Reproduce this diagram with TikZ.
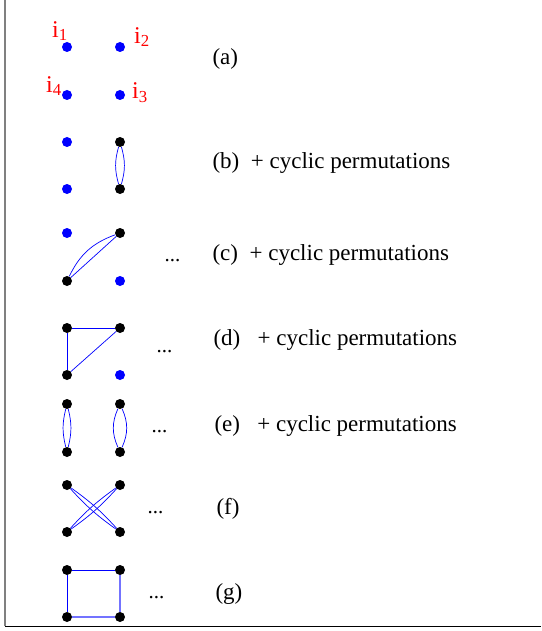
\documentclass[tikz,border=0pt]{standalone}
\usepackage{fontspec}
\setmainfont{Liberation Serif}
\usepackage{tikz}
\usetikzlibrary{positioning}

\begin{document}
\begin{tikzpicture}[
    x=1pt, y=-1pt,
    dot/.style={circle, fill=black, inner sep=0pt, minimum size=10pt},
    fdot/.style={dot, fill=blue},
    link/.style={draw=blue, line width=0.7pt},
    lbl/.style={anchor=base west, font=\fontsize{23}{28}\selectfont},
    more/.style={anchor=base west, font=\fontsize{21}{26}\selectfont},
    idx/.style={text=red, inner sep=0pt, font=\fontsize{24}{28}\selectfont}
]
\useasboundingbox (0,0) rectangle (541,631);

% frame
\draw[gray, line width=1.2pt] (5,0) -- (5,626);
\draw[line width=0.9pt] (5,626) -- (541,626);

% (a) four free points
\node[fdot] (a1) at (67,47) {};
\node[fdot] (a2) at (120,47) {};
\node[fdot] (a3) at (120,95) {};
\node[fdot] (a4) at (67,95) {};
\node[idx] (i1) at (60,31) {i\textsubscript{1}};
\node[idx] (i2) at (142,37) {i\textsubscript{2}};
\node[idx] (i4) at (54,86) {i\textsubscript{4}};
\node[idx] (i3) at (140,93) {i\textsubscript{3}};
\node[lbl] (la) at (209,65) {(a)};

% (b)
\node[fdot] (b1) at (67,142) {};
\node[dot] (b2) at (120,142) {};
\node[dot] (b3) at (120,189) {};
\node[fdot] (b4) at (67,189) {};
\draw[link] (b2) to[bend left=16] (b3);
\draw[link] (b2) to[bend right=16] (b3);
\node[lbl] (lb) at (209,168) {(b)~~+ cyclic permutations};

% (c)
\node[fdot] (c1) at (67,233) {};
\node[dot] (c2) at (120,233) {};
\node[fdot] (c3) at (120,281) {};
\node[dot] (c4) at (67,281) {};
\draw[link] (c4) -- (c2);
\draw[link] (c4) to[bend left=22] (c2);
\node[more] (dc) at (161,261) {...};
\node[lbl] (lc) at (209,260) {(c)~~+ cyclic permutations};

% (d)
\node[dot] (d1) at (67,328) {};
\node[dot] (d2) at (120,328) {};
\node[fdot] (d3) at (120,375) {};
\node[dot] (d4) at (67,375) {};
\draw[link] (d1) -- (d2);
\draw[link] (d1) -- (d4);
\draw[link] (d4) -- (d2);
\node[more] (dd) at (153,352) {...};
\node[lbl] (ld) at (210,345) {(d)~~~+ cyclic permutations};

% (e)
\node[dot] (e1) at (67,404) {};
\node[dot] (e2) at (120,404) {};
\node[dot] (e3) at (120,452) {};
\node[dot] (e4) at (67,452) {};
\draw[link] (e1) to[bend left=14] (e4);
\draw[link] (e1) to[bend right=14] (e4);
\draw[link] (e2) to[bend left=24] (e3);
\draw[link] (e2) to[bend right=24] (e3);
\node[more] (de) at (148,432) {...};
\node[lbl] (le) at (211,431) {(e)~~~+ cyclic permutations};

% (f)
\node[dot] (f1) at (67,485) {};
\node[dot] (f2) at (120,485) {};
\node[dot] (f3) at (120,532) {};
\node[dot] (f4) at (67,532) {};
\draw[link] (f1) to[bend left=6] (f3);
\draw[link] (f1) to[bend right=6] (f3);
\draw[link] (f4) to[bend left=6] (f2);
\draw[link] (f4) to[bend right=6] (f2);
\node[more] (df) at (144,513) {...};
\node[lbl] (lf) at (213,514) {(f)};

% (g)
\node[dot] (g1) at (67,570) {};
\node[dot] (g2) at (120,570) {};
\node[dot] (g3) at (120,617) {};
\node[dot] (g4) at (67,617) {};
\draw[link] (g1) -- (g2);
\draw[link] (g1) -- (g4);
\draw[link, draw=blue!55, line width=1.1pt] (g2) -- (g3);
\draw[link, draw=blue!55, line width=1.1pt] (g4) -- (g3);
\node[more] (dg) at (145,598) {...};
\node[lbl] (lg) at (212,599) {(g)};

\end{tikzpicture}
\end{document}
